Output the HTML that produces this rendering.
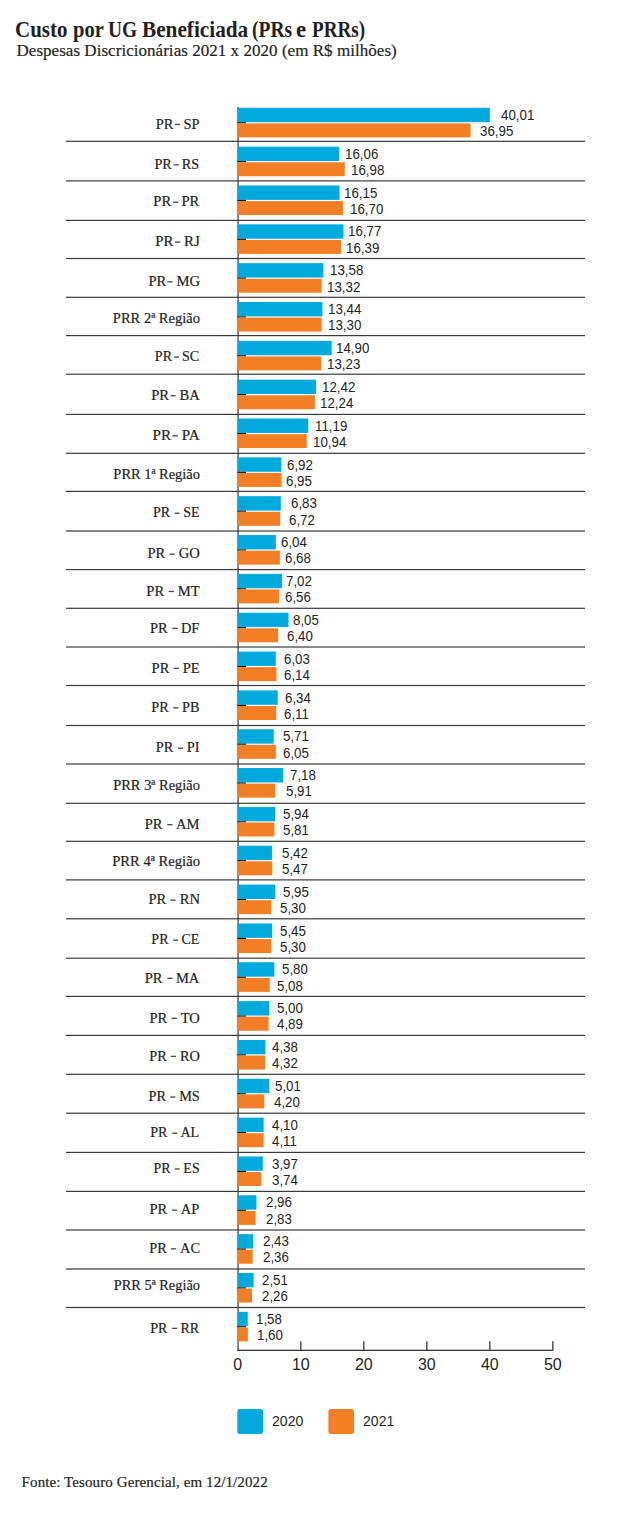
<!DOCTYPE html><html><head><meta charset="utf-8"><style>
html,body{margin:0;padding:0;background:#fff}
body{width:640px;height:1518px;position:relative;overflow:hidden;color:#231f20}
.a{position:absolute}
.t{position:absolute;white-space:nowrap;line-height:1}
.sf{font-family:"Liberation Serif",serif;-webkit-text-stroke:0.2px #231f20}
.ss{font-family:"Liberation Sans",sans-serif}
.cat{font-family:"Liberation Serif",serif;-webkit-text-stroke:0.2px #231f20;font-size:15px;right:440.4px;text-align:right;transform:scaleX(0.945);transform-origin:100% 0}
.catr{transform:scaleX(0.965)}
.d{display:inline-block;width:5.4px;height:1.3px;vertical-align:3.55px}
.v{font-family:"Liberation Sans",sans-serif;font-size:14px;transform:scaleX(0.95);transform-origin:0 0}
.b{background:#00aadc}.o{background:#f27f26}
.sep{position:absolute;left:66px;width:519px;height:1.2px;background:#404040}
.tk{position:absolute;left:237.5px;width:8.5px;background:#111}

</style></head><body>
<svg class="a" style="left:0;top:0" width="640" height="1518" viewBox="0 0 640 1518"><rect x="237.3" y="107" width="1.6" height="1244" fill="#6a6a6a"/><rect x="237.3" y="1349.7" width="316" height="1.3" fill="#333"/><rect x="300.05" y="1341.2" width="1.5" height="9" fill="#555"/><rect x="363.05" y="1341.2" width="1.5" height="9" fill="#555"/><rect x="426.05" y="1341.2" width="1.5" height="9" fill="#555"/><rect x="489.05" y="1341.2" width="1.5" height="9" fill="#555"/><rect x="552.05" y="1341.2" width="1.5" height="9" fill="#555"/><rect x="66" y="140.7" width="519" height="1.2" fill="#3a3a3a"/><rect x="66" y="180.3" width="519" height="1.2" fill="#3a3a3a"/><rect x="66" y="219.8" width="519" height="1.2" fill="#3a3a3a"/><rect x="66" y="257.9" width="519" height="1.2" fill="#3a3a3a"/><rect x="66" y="296.7" width="519" height="1.2" fill="#3a3a3a"/><rect x="66" y="335" width="519" height="1.2" fill="#3a3a3a"/><rect x="66" y="373.6" width="519" height="1.2" fill="#3a3a3a"/><rect x="66" y="413.8" width="519" height="1.2" fill="#3a3a3a"/><rect x="66" y="452.7" width="519" height="1.2" fill="#3a3a3a"/><rect x="66" y="490.8" width="519" height="1.2" fill="#3a3a3a"/><rect x="66" y="530.4" width="519" height="1.2" fill="#3a3a3a"/><rect x="66" y="569" width="519" height="1.2" fill="#3a3a3a"/><rect x="66" y="607.7" width="519" height="1.2" fill="#3a3a3a"/><rect x="66" y="646.4" width="519" height="1.2" fill="#3a3a3a"/><rect x="66" y="684.9" width="519" height="1.2" fill="#3a3a3a"/><rect x="66" y="724.9" width="519" height="1.2" fill="#3a3a3a"/><rect x="66" y="763.4" width="519" height="1.2" fill="#3a3a3a"/><rect x="66" y="802.7" width="519" height="1.2" fill="#3a3a3a"/><rect x="66" y="840.7" width="519" height="1.2" fill="#3a3a3a"/><rect x="66" y="879.3" width="519" height="1.2" fill="#3a3a3a"/><rect x="66" y="918.2" width="519" height="1.2" fill="#3a3a3a"/><rect x="66" y="957.6" width="519" height="1.2" fill="#3a3a3a"/><rect x="66" y="995.8" width="519" height="1.2" fill="#3a3a3a"/><rect x="66" y="1034.8" width="519" height="1.2" fill="#3a3a3a"/><rect x="66" y="1073.7" width="519" height="1.2" fill="#3a3a3a"/><rect x="66" y="1112.6" width="519" height="1.2" fill="#3a3a3a"/><rect x="66" y="1151.8" width="519" height="1.2" fill="#3a3a3a"/><rect x="66" y="1190.8" width="519" height="1.2" fill="#3a3a3a"/><rect x="66" y="1229.4" width="519" height="1.2" fill="#3a3a3a"/><rect x="66" y="1268.4" width="519" height="1.2" fill="#3a3a3a"/><rect x="66" y="1306.9" width="519" height="1.2" fill="#3a3a3a"/><rect x="237.5" y="107.8" width="252.36" height="14.4" fill="#00aadc"/><rect x="237.5" y="122.2" width="8.5" height="1.2" fill="#111"/><rect x="237.5" y="123.4" width="233.09" height="14" fill="#f27f26"/><rect x="237.5" y="146.64" width="101.48" height="14.4" fill="#00aadc"/><rect x="237.5" y="161.04" width="8.5" height="1.2" fill="#111"/><rect x="237.5" y="162.24" width="107.27" height="14" fill="#f27f26"/><rect x="237.5" y="185.48" width="102.04" height="14.4" fill="#00aadc"/><rect x="237.5" y="199.88" width="8.5" height="1.2" fill="#111"/><rect x="237.5" y="201.08" width="105.51" height="14" fill="#f27f26"/><rect x="237.5" y="224.32" width="105.95" height="14.4" fill="#00aadc"/><rect x="237.5" y="238.72" width="8.5" height="1.2" fill="#111"/><rect x="237.5" y="239.92" width="103.56" height="14" fill="#f27f26"/><rect x="237.5" y="263.16" width="85.85" height="14.4" fill="#00aadc"/><rect x="237.5" y="277.56" width="8.5" height="1.2" fill="#111"/><rect x="237.5" y="278.76" width="84.22" height="14" fill="#f27f26"/><rect x="237.5" y="302" width="84.97" height="14.4" fill="#00aadc"/><rect x="237.5" y="316.39" width="8.5" height="1.2" fill="#111"/><rect x="237.5" y="317.59" width="84.09" height="14" fill="#f27f26"/><rect x="237.5" y="340.83" width="94.17" height="14.4" fill="#00aadc"/><rect x="237.5" y="355.23" width="8.5" height="1.2" fill="#111"/><rect x="237.5" y="356.43" width="83.65" height="14" fill="#f27f26"/><rect x="237.5" y="379.67" width="78.55" height="14.4" fill="#00aadc"/><rect x="237.5" y="394.07" width="8.5" height="1.2" fill="#111"/><rect x="237.5" y="395.27" width="77.41" height="14" fill="#f27f26"/><rect x="237.5" y="418.51" width="70.8" height="14.4" fill="#00aadc"/><rect x="237.5" y="432.91" width="8.5" height="1.2" fill="#111"/><rect x="237.5" y="434.11" width="69.22" height="14" fill="#f27f26"/><rect x="237.5" y="457.35" width="43.9" height="14.4" fill="#00aadc"/><rect x="237.5" y="471.75" width="8.5" height="1.2" fill="#111"/><rect x="237.5" y="472.95" width="44.08" height="14" fill="#f27f26"/><rect x="237.5" y="496.19" width="43.33" height="14.4" fill="#00aadc"/><rect x="237.5" y="510.59" width="8.5" height="1.2" fill="#111"/><rect x="237.5" y="511.79" width="42.64" height="14" fill="#f27f26"/><rect x="237.5" y="535.03" width="38.35" height="14.4" fill="#00aadc"/><rect x="237.5" y="549.43" width="8.5" height="1.2" fill="#111"/><rect x="237.5" y="550.63" width="42.38" height="14" fill="#f27f26"/><rect x="237.5" y="573.87" width="44.53" height="14.4" fill="#00aadc"/><rect x="237.5" y="588.27" width="8.5" height="1.2" fill="#111"/><rect x="237.5" y="589.47" width="41.63" height="14" fill="#f27f26"/><rect x="237.5" y="612.71" width="51.02" height="14.4" fill="#00aadc"/><rect x="237.5" y="627.11" width="8.5" height="1.2" fill="#111"/><rect x="237.5" y="628.31" width="40.62" height="14" fill="#f27f26"/><rect x="237.5" y="651.55" width="38.29" height="14.4" fill="#00aadc"/><rect x="237.5" y="665.95" width="8.5" height="1.2" fill="#111"/><rect x="237.5" y="667.15" width="38.98" height="14" fill="#f27f26"/><rect x="237.5" y="690.38" width="40.24" height="14.4" fill="#00aadc"/><rect x="237.5" y="704.78" width="8.5" height="1.2" fill="#111"/><rect x="237.5" y="705.99" width="38.79" height="14" fill="#f27f26"/><rect x="237.5" y="729.22" width="36.27" height="14.4" fill="#00aadc"/><rect x="237.5" y="743.62" width="8.5" height="1.2" fill="#111"/><rect x="237.5" y="744.82" width="38.41" height="14" fill="#f27f26"/><rect x="237.5" y="768.06" width="45.53" height="14.4" fill="#00aadc"/><rect x="237.5" y="782.46" width="8.5" height="1.2" fill="#111"/><rect x="237.5" y="783.66" width="37.53" height="14" fill="#f27f26"/><rect x="237.5" y="806.9" width="37.72" height="14.4" fill="#00aadc"/><rect x="237.5" y="821.3" width="8.5" height="1.2" fill="#111"/><rect x="237.5" y="822.5" width="36.9" height="14" fill="#f27f26"/><rect x="237.5" y="845.74" width="34.45" height="14.4" fill="#00aadc"/><rect x="237.5" y="860.14" width="8.5" height="1.2" fill="#111"/><rect x="237.5" y="861.34" width="34.76" height="14" fill="#f27f26"/><rect x="237.5" y="884.58" width="37.78" height="14.4" fill="#00aadc"/><rect x="237.5" y="898.98" width="8.5" height="1.2" fill="#111"/><rect x="237.5" y="900.18" width="33.69" height="14" fill="#f27f26"/><rect x="237.5" y="923.42" width="34.63" height="14.4" fill="#00aadc"/><rect x="237.5" y="937.82" width="8.5" height="1.2" fill="#111"/><rect x="237.5" y="939.02" width="33.69" height="14" fill="#f27f26"/><rect x="237.5" y="962.26" width="36.84" height="14.4" fill="#00aadc"/><rect x="237.5" y="976.66" width="8.5" height="1.2" fill="#111"/><rect x="237.5" y="977.86" width="32.3" height="14" fill="#f27f26"/><rect x="237.5" y="1001.1" width="31.8" height="14.4" fill="#00aadc"/><rect x="237.5" y="1015.5" width="8.5" height="1.2" fill="#111"/><rect x="237.5" y="1016.7" width="31.11" height="14" fill="#f27f26"/><rect x="237.5" y="1039.94" width="27.89" height="14.4" fill="#00aadc"/><rect x="237.5" y="1054.34" width="8.5" height="1.2" fill="#111"/><rect x="237.5" y="1055.54" width="27.52" height="14" fill="#f27f26"/><rect x="237.5" y="1078.77" width="31.86" height="14.4" fill="#00aadc"/><rect x="237.5" y="1093.17" width="8.5" height="1.2" fill="#111"/><rect x="237.5" y="1094.38" width="26.76" height="14" fill="#f27f26"/><rect x="237.5" y="1117.61" width="26.13" height="14.4" fill="#00aadc"/><rect x="237.5" y="1132.01" width="8.5" height="1.2" fill="#111"/><rect x="237.5" y="1133.21" width="26.19" height="14" fill="#f27f26"/><rect x="237.5" y="1156.45" width="25.31" height="14.4" fill="#00aadc"/><rect x="237.5" y="1170.85" width="8.5" height="1.2" fill="#111"/><rect x="237.5" y="1172.05" width="23.86" height="14" fill="#f27f26"/><rect x="237.5" y="1195.29" width="18.95" height="14.4" fill="#00aadc"/><rect x="237.5" y="1209.69" width="8.5" height="1.2" fill="#111"/><rect x="237.5" y="1210.89" width="18.13" height="14" fill="#f27f26"/><rect x="237.5" y="1234.13" width="15.61" height="14.4" fill="#00aadc"/><rect x="237.5" y="1248.53" width="8.5" height="1.2" fill="#111"/><rect x="237.5" y="1249.73" width="15.17" height="14" fill="#f27f26"/><rect x="237.5" y="1272.97" width="16.11" height="14.4" fill="#00aadc"/><rect x="237.5" y="1287.37" width="8.5" height="1.2" fill="#111"/><rect x="237.5" y="1288.57" width="14.54" height="14" fill="#f27f26"/><rect x="237.5" y="1311.81" width="10.25" height="14.4" fill="#00aadc"/><rect x="237.5" y="1326.21" width="8.5" height="1.2" fill="#111"/><rect x="237.5" y="1327.41" width="10.38" height="14" fill="#f27f26"/><rect x="237.3" y="1409" width="25.8" height="25" rx="2.5" fill="#00aadc"/><rect x="328.4" y="1409" width="25.6" height="25" rx="2.5" fill="#f27f26"/><rect x="174.88" y="123.81" width="5.19" height="1.3" fill="#4a4848"/><rect x="173.65" y="164.2" width="5.12" height="1.3" fill="#4a4848"/><rect x="173" y="201.61" width="5.25" height="1.3" fill="#4a4848"/><rect x="174.93" y="241.41" width="5.36" height="1.3" fill="#4a4848"/><rect x="167.37" y="281.2" width="5.24" height="1.3" fill="#4a4848"/><rect x="173.89" y="356.41" width="5.07" height="1.3" fill="#4a4848"/><rect x="170.49" y="395.11" width="5.26" height="1.3" fill="#4a4848"/><rect x="172.49" y="435.2" width="5.45" height="1.3" fill="#4a4848"/><rect x="174.54" y="512.61" width="5.06" height="1.3" fill="#4a4848"/><rect x="169.56" y="553.52" width="5.25" height="1.3" fill="#4a4848"/><rect x="168.71" y="590.81" width="5.26" height="1.3" fill="#4a4848"/><rect x="172.34" y="627.7" width="5.18" height="1.3" fill="#4a4848"/><rect x="173.76" y="667.7" width="5.22" height="1.3" fill="#4a4848"/><rect x="173.3" y="707.2" width="5.15" height="1.3" fill="#4a4848"/><rect x="177.96" y="747.61" width="5.18" height="1.3" fill="#4a4848"/><rect x="167.3" y="824.02" width="5.22" height="1.3" fill="#4a4848"/><rect x="170.41" y="899.52" width="5.24" height="1.3" fill="#4a4848"/><rect x="173.09" y="939.52" width="5.04" height="1.3" fill="#4a4848"/><rect x="167.3" y="977.7" width="5.22" height="1.3" fill="#4a4848"/><rect x="171.53" y="1017.7" width="5.23" height="1.3" fill="#4a4848"/><rect x="170.82" y="1055.7" width="5.17" height="1.3" fill="#4a4848"/><rect x="170.19" y="1096.41" width="5.14" height="1.3" fill="#4a4848"/><rect x="172.25" y="1132.61" width="5.05" height="1.3" fill="#4a4848"/><rect x="174.76" y="1168.31" width="5.02" height="1.3" fill="#4a4848"/><rect x="172.06" y="1209.52" width="5.23" height="1.3" fill="#4a4848"/><rect x="170.82" y="1248.2" width="5.17" height="1.3" fill="#4a4848"/><rect x="172.24" y="1327.7" width="5.05" height="1.3" fill="#4a4848"/></svg>
<div class="t sf" style="left:15.28px;top:18.6px;font-size:22.6px;font-weight:bold;-webkit-text-stroke:0;transform:scaleX(0.9284);transform-origin:0 0">Custo</div>
<div class="t sf" style="left:72.83px;top:18.6px;font-size:22.6px;font-weight:bold;-webkit-text-stroke:0;transform:scaleX(0.9063);transform-origin:0 0">por</div>
<div class="t sf" style="left:108.23px;top:18.6px;font-size:22.6px;font-weight:bold;-webkit-text-stroke:0;transform:scaleX(0.8609);transform-origin:0 0">UG</div>
<div class="t sf" style="left:142.12px;top:18.6px;font-size:22.6px;font-weight:bold;-webkit-text-stroke:0;transform:scaleX(0.9403);transform-origin:0 0">Beneficiada</div>
<div class="t sf" style="left:251.64px;top:18.6px;font-size:22.6px;font-weight:bold;-webkit-text-stroke:0;transform:scaleX(0.8630);transform-origin:0 0">(PRs</div>
<div class="t sf" style="left:296.09px;top:18.6px;font-size:22.6px;font-weight:bold;-webkit-text-stroke:0;transform:scaleX(1.0116);transform-origin:0 0">e</div>
<div class="t sf" style="left:311.56px;top:18.6px;font-size:22.6px;font-weight:bold;-webkit-text-stroke:0;transform:scaleX(0.8458);transform-origin:0 0">PRRs)</div>
<div class="t sf" style="left:16.5px;top:41.9px;font-size:17px;letter-spacing:0.04px">Despesas Discricionárias 2021 x 2020 (em R$ milhões)</div>
<div class="t ss" style="left:217.8px;top:1356.6px;width:40px;text-align:center;font-size:16px">0</div>
<div class="t ss" style="left:280.8px;top:1356.6px;width:40px;text-align:center;font-size:16px">10</div>
<div class="t ss" style="left:343.8px;top:1356.6px;width:40px;text-align:center;font-size:16px">20</div>
<div class="t ss" style="left:406.8px;top:1356.6px;width:40px;text-align:center;font-size:16px">30</div>
<div class="t ss" style="left:469.8px;top:1356.6px;width:40px;text-align:center;font-size:16px">40</div>
<div class="t ss" style="left:532.8px;top:1356.6px;width:40px;text-align:center;font-size:16px">50</div>
<div class="t cat" style="top:116.66px;transform:scaleX(0.9633)">PR<span class="d" id="d0" style="margin-left:1.6px;margin-right:3.6px"></span>SP</div>
<div class="t v" style="left:501.2px;top:107.95px">40,01</div>
<div class="t v" style="left:479.8px;top:124.15px">36,95</div>
<div class="t cat" style="top:157.06px;transform:scaleX(0.9494)">PR<span class="d" id="d1" style="margin-left:1.6px;margin-right:3.6px"></span>RS</div>
<div class="t v" style="left:344.6px;top:146.79px">16,06</div>
<div class="t v" style="left:351.25px;top:162.99px">16,98</div>
<div class="t cat" style="top:194.46px;transform:scaleX(0.9733)">PR<span class="d" id="d2" style="margin-left:1.6px;margin-right:3.6px"></span>PR</div>
<div class="t v" style="left:344px;top:185.63px">16,15</div>
<div class="t v" style="left:350.25px;top:201.83px">16,70</div>
<div class="t cat" style="top:234.26px;transform:scaleX(0.9941)">PR<span class="d" id="d3" style="margin-left:1.6px;margin-right:3.6px"></span>RJ</div>
<div class="t v" style="left:348.4px;top:224.47px">16,77</div>
<div class="t v" style="left:346.2px;top:240.67px">16,39</div>
<div class="t cat" style="top:274.06px;transform:scaleX(0.9723)">PR<span class="d" id="d4" style="margin-left:1.6px;margin-right:3.6px"></span>MG</div>
<div class="t v" style="left:329.6px;top:263.31px">13,58</div>
<div class="t v" style="left:327.1px;top:279.51px">13,32</div>
<div class="t cat catr" style="top:311.06px;transform:scaleX(0.9684)">PRR 2ª Região</div>
<div class="t v" style="left:328.4px;top:302.14px">13,44</div>
<div class="t v" style="left:328.4px;top:318.34px">13,30</div>
<div class="t cat" style="top:349.26px;transform:scaleX(0.9406)">PR<span class="d" id="d6" style="margin-left:1.6px;margin-right:3.6px"></span>SC</div>
<div class="t v" style="left:336.2px;top:340.98px">14,90</div>
<div class="t v" style="left:327.4px;top:357.18px">13,23</div>
<div class="t cat" style="top:387.96px;transform:scaleX(0.9762)">PR<span class="d" id="d7" style="margin-left:1.6px;margin-right:3.6px"></span>BA</div>
<div class="t v" style="left:321.8px;top:379.82px">12,42</div>
<div class="t v" style="left:320.25px;top:396.02px">12,24</div>
<div class="t cat" style="top:428.06px;transform:scaleX(1.0119)">PR<span class="d" id="d8" style="margin-left:1.6px;margin-right:3.6px"></span>PA</div>
<div class="t v" style="left:314.9px;top:418.66px">11,19</div>
<div class="t v" style="left:313.4px;top:434.86px">10,94</div>
<div class="t cat catr" style="top:467.46px;transform:scaleX(0.9627)">PRR 1ª Região</div>
<div class="t v" style="left:286.8px;top:457.5px">6,92</div>
<div class="t v" style="left:285.9px;top:473.7px">6,95</div>
<div class="t cat" style="top:505.46px;transform:scaleX(0.9388)">PR<span class="d" id="d10" style="margin-left:4.6px;margin-right:3.8px"></span>SE</div>
<div class="t v" style="left:290.6px;top:496.34px">6,83</div>
<div class="t v" style="left:289.3px;top:512.54px">6,72</div>
<div class="t cat" style="top:546.36px;transform:scaleX(0.9737)">PR<span class="d" id="d11" style="margin-left:4.6px;margin-right:3.8px"></span>GO</div>
<div class="t v" style="left:281.2px;top:535.18px">6,04</div>
<div class="t v" style="left:285.25px;top:551.38px">6,68</div>
<div class="t cat" style="top:583.66px;transform:scaleX(0.9750)">PR<span class="d" id="d12" style="margin-left:4.6px;margin-right:3.8px"></span>MT</div>
<div class="t v" style="left:285.6px;top:574.02px">7,02</div>
<div class="t v" style="left:284.6px;top:590.22px">6,56</div>
<div class="t cat" style="top:620.56px;transform:scaleX(0.9609)">PR<span class="d" id="d13" style="margin-left:4.6px;margin-right:3.8px"></span>DF</div>
<div class="t v" style="left:293.1px;top:612.86px">8,05</div>
<div class="t v" style="left:287.1px;top:629.06px">6,40</div>
<div class="t cat" style="top:660.56px;transform:scaleX(0.9679)">PR<span class="d" id="d14" style="margin-left:4.6px;margin-right:3.8px"></span>PE</div>
<div class="t v" style="left:284px;top:651.7px">6,03</div>
<div class="t v" style="left:284.3px;top:667.9px">6,14</div>
<div class="t cat" style="top:700.06px;transform:scaleX(0.9552)">PR<span class="d" id="d15" style="margin-left:4.6px;margin-right:3.8px"></span>PB</div>
<div class="t v" style="left:284.6px;top:690.53px">6,34</div>
<div class="t v" style="left:284.3px;top:706.74px">6,11</div>
<div class="t cat" style="top:740.46px;transform:scaleX(0.9610)">PR<span class="d" id="d16" style="margin-left:4.6px;margin-right:3.8px"></span>PI</div>
<div class="t v" style="left:282.75px;top:729.37px">5,71</div>
<div class="t v" style="left:282.75px;top:745.57px">6,05</div>
<div class="t cat catr" style="top:778.06px;transform:scaleX(0.9650)">PRR 3ª Região</div>
<div class="t v" style="left:289.9px;top:768.21px">7,18</div>
<div class="t v" style="left:285.9px;top:784.41px">5,91</div>
<div class="t cat" style="top:816.86px;transform:scaleX(0.9684)">PR<span class="d" id="d18" style="margin-left:4.6px;margin-right:3.8px"></span>AM</div>
<div class="t v" style="left:282.75px;top:807.05px">5,94</div>
<div class="t v" style="left:282.75px;top:823.25px">5,81</div>
<div class="t cat catr" style="top:854.36px;transform:scaleX(0.9752)">PRR 4ª Região</div>
<div class="t v" style="left:281.5px;top:845.89px">5,42</div>
<div class="t v" style="left:281.5px;top:862.09px">5,47</div>
<div class="t cat" style="top:892.36px;transform:scaleX(0.9723)">PR<span class="d" id="d20" style="margin-left:4.6px;margin-right:3.8px"></span>RN</div>
<div class="t v" style="left:282.75px;top:884.73px">5,95</div>
<div class="t v" style="left:279.6px;top:900.93px">5,30</div>
<div class="t cat" style="top:932.36px;transform:scaleX(0.9350)">PR<span class="d" id="d21" style="margin-left:4.6px;margin-right:3.8px"></span>CE</div>
<div class="t v" style="left:279.9px;top:923.57px">5,45</div>
<div class="t v" style="left:279.6px;top:939.77px">5,30</div>
<div class="t cat" style="top:970.56px;transform:scaleX(0.9684)">PR<span class="d" id="d22" style="margin-left:4.6px;margin-right:3.8px"></span>MA</div>
<div class="t v" style="left:281.5px;top:962.41px">5,80</div>
<div class="t v" style="left:277.4px;top:978.61px">5,08</div>
<div class="t cat" style="top:1010.56px;transform:scaleX(0.9709)">PR<span class="d" id="d23" style="margin-left:4.6px;margin-right:3.8px"></span>TO</div>
<div class="t v" style="left:277.4px;top:1001.25px">5,00</div>
<div class="t v" style="left:276.8px;top:1017.45px">4,89</div>
<div class="t cat" style="top:1048.56px;transform:scaleX(0.9587)">PR<span class="d" id="d24" style="margin-left:4.6px;margin-right:3.8px"></span>RO</div>
<div class="t v" style="left:272.1px;top:1040.09px">4,38</div>
<div class="t v" style="left:271.8px;top:1056.29px">4,32</div>
<div class="t cat" style="top:1089.26px;transform:scaleX(0.9527)">PR<span class="d" id="d25" style="margin-left:4.6px;margin-right:3.8px"></span>MS</div>
<div class="t v" style="left:275.25px;top:1078.92px">5,01</div>
<div class="t v" style="left:273.7px;top:1095.12px">4,20</div>
<div class="t cat" style="top:1125.46px;transform:scaleX(0.9372)">PR<span class="d" id="d26" style="margin-left:4.6px;margin-right:3.8px"></span>AL</div>
<div class="t v" style="left:271.8px;top:1117.76px">4,10</div>
<div class="t v" style="left:271.8px;top:1133.96px">4,11</div>
<div class="t cat" style="top:1161.16px;transform:scaleX(0.9304)">PR<span class="d" id="d27" style="margin-left:4.6px;margin-right:3.8px"></span>ES</div>
<div class="t v" style="left:271.8px;top:1156.6px">3,97</div>
<div class="t v" style="left:271.8px;top:1172.8px">3,74</div>
<div class="t cat" style="top:1202.36px;transform:scaleX(0.9709)">PR<span class="d" id="d28" style="margin-left:4.6px;margin-right:3.8px"></span>AP</div>
<div class="t v" style="left:265.6px;top:1195.44px">2,96</div>
<div class="t v" style="left:265.9px;top:1211.64px">2,83</div>
<div class="t cat" style="top:1241.06px;transform:scaleX(0.9587)">PR<span class="d" id="d29" style="margin-left:4.6px;margin-right:3.8px"></span>AC</div>
<div class="t v" style="left:262.75px;top:1234.28px">2,43</div>
<div class="t v" style="left:262.75px;top:1250.48px">2,36</div>
<div class="t cat catr" style="top:1277.96px;transform:scaleX(0.9582)">PRR 5ª Região</div>
<div class="t v" style="left:261.8px;top:1273.12px">2,51</div>
<div class="t v" style="left:261.8px;top:1289.32px">2,26</div>
<div class="t cat" style="top:1320.56px;transform:scaleX(0.9372)">PR<span class="d" id="d31" style="margin-left:4.6px;margin-right:3.8px"></span>RR</div>
<div class="t v" style="left:255.9px;top:1311.96px">1,58</div>
<div class="t v" style="left:256.5px;top:1328.16px">1,60</div>
<div class="t ss" style="left:272.4px;top:1414.2px;font-size:14.5px;transform:scaleX(0.97);transform-origin:0 0">2020</div>
<div class="t ss" style="left:363.2px;top:1414.2px;font-size:14.5px;transform:scaleX(0.97);transform-origin:0 0">2021</div>
<div class="t sf" style="left:21.6px;top:1475.3px;font-size:15px;letter-spacing:0.1px">Fonte: Tesouro Gerencial, em 12/1/2022</div>
</body></html>
